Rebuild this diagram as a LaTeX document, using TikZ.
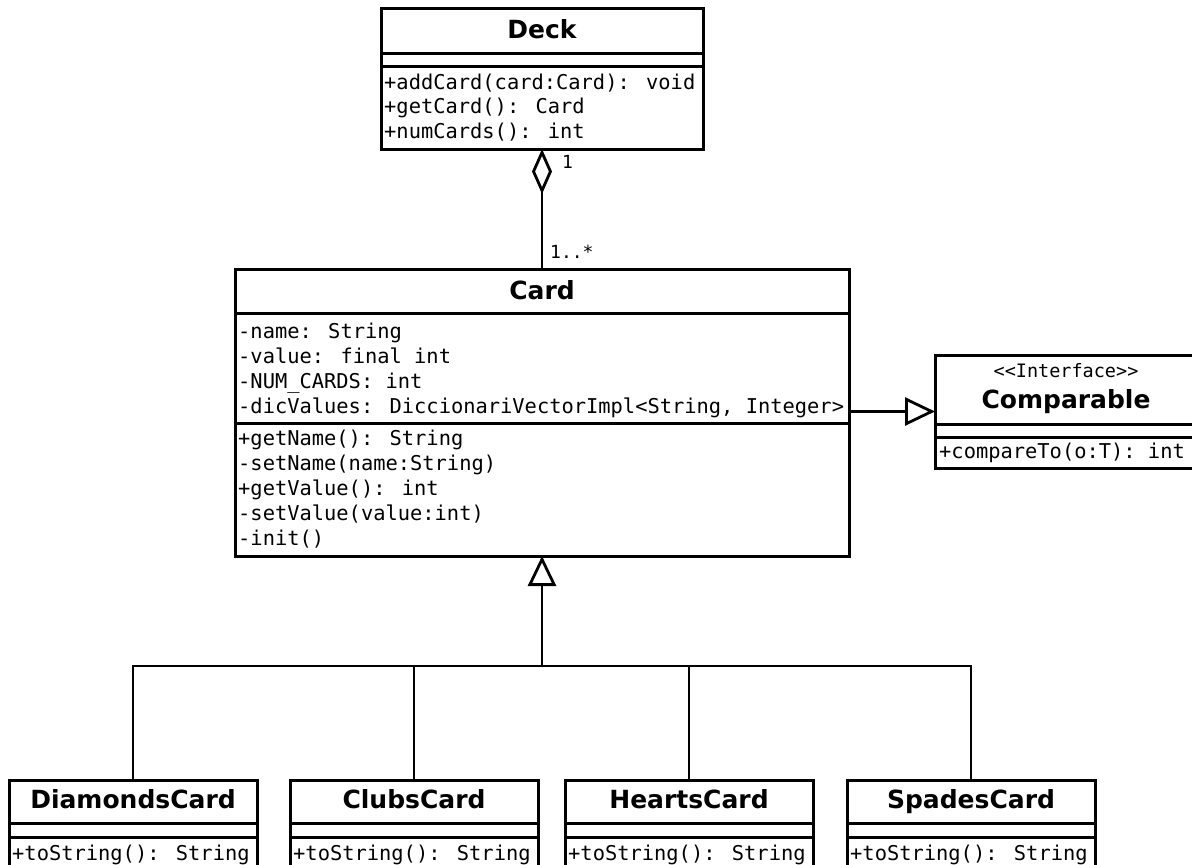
\documentclass[tikz,border=0pt]{standalone}
\usepackage{fontspec}
\setmainfont{DejaVu Sans}
\newfontfamily\umlmono{DejaVu Sans Mono}
\usetikzlibrary{arrows.meta}

\tikzset{
  classbox/.style={draw, line width=3pt, rectangle, inner sep=0pt, outer sep=0pt, anchor=north west},
  sepline/.style={line width=3pt},
  classname/.style={font=\bfseries\fontsize{25}{30}\selectfont, anchor=base, inner sep=0pt},
  stereo/.style={font=\umlmono\fontsize{18.5}{22}\selectfont, anchor=base, inner sep=0pt},
  member/.style={font=\umlmono\fontsize{20.4}{24}\selectfont, anchor=base west, inner sep=0pt},
  mult/.style={font=\umlmono\fontsize{18}{21}\selectfont, anchor=base west, inner sep=0pt},
  link/.style={line width=2.8pt},
  inherit/.style={link, -{Triangle[open, length=30pt, width=28pt]}},
  aggregate/.style={link, {Diamond[open, length=45pt, width=20pt]}-},
}

\begin{document}
\begin{tikzpicture}[x=1pt, y=-1pt]
\useasboundingbox (0,0) rectangle (1192,865);
\clip (0,0) rectangle (1192,865);

% ---------- Deck ----------
\node[classbox, minimum width=322pt, minimum height=141pt] (deck) at (381,8) {};
\draw[sepline] ([yshift=-45pt]deck.north west) -- ([yshift=-45pt]deck.north east);
\draw[sepline] ([yshift=-58pt]deck.north west) -- ([yshift=-58pt]deck.north east);
\node[classname] (deckT) at (542,38) {Deck};
\node[member] (deckM1) at (384,89) {+addCard(card:Card): void};
\node[member] (deckM2) at (384,113.5) {+getCard(): Card};
\node[member] (deckM3) at (384,138) {+numCards(): int};

% ---------- Card ----------
\node[classbox, minimum width=614pt, minimum height=287pt] (card) at (235,269) {};
\draw[sepline] ([yshift=-44pt]card.north west) -- ([yshift=-44pt]card.north east);
\draw[sepline] ([yshift=-154pt]card.north west) -- ([yshift=-154pt]card.north east);
\node[classname] (cardT) at (542,299) {Card};
\node[member] (cardA1) at (238,338) {-name: String};
\node[member] (cardA2) at (238,363) {-value: final int};
\node[member] (cardA3) at (238,388) {-NUM\_CARDS: int};
\node[member] (cardA4) at (238,413) {-dicValues: DiccionariVectorImpl<String, Integer>};
\node[member] (cardM1) at (238,445.5) {+getName(): String};
\node[member] (cardM2) at (238,470.5) {-setName(name:String)};
\node[member] (cardM3) at (238,495) {+getValue(): int};
\node[member] (cardM4) at (238,520) {-setValue(value:int)};
\node[member] (cardM5) at (238,545) {-init()};

% ---------- Comparable ----------
\node[classbox, minimum width=262pt, minimum height=113pt] (comp) at (935,355) {};
\draw[sepline] ([yshift=-69pt]comp.north west) -- ([yshift=-69pt]comp.north east);
\draw[sepline] ([yshift=-82pt]comp.north west) -- ([yshift=-82pt]comp.north east);
\node[stereo] (compS) at (1066,377) {<<Interface>>};
\node[classname] (compT) at (1066,408) {Comparable};
\node[member] (compM1) at (939,458) {+compareTo(o:T): int};

% ---------- Subclasses ----------
\foreach \nm/\lbl/\x/\w in {diamonds/DiamondsCard/9/248, clubs/ClubsCard/290/248,
                            hearts/HeartsCard/565/248, spades/SpadesCard/847/248}{
  \node[classbox, minimum width=\w pt, minimum height=100pt] (\nm) at (\x,780) {};
  \draw[sepline] ([yshift=-43pt]\nm.north west) -- ([yshift=-43pt]\nm.north east);
  \draw[sepline] ([yshift=-57pt]\nm.north west) -- ([yshift=-57pt]\nm.north east);
  \node[classname] (\nm T) at ([yshift=-28pt]\nm.north) {\lbl};
  \node[member] (\nm M) at ([xshift=3pt, yshift=-80pt]\nm.north west) {+toString(): String};
}

% ---------- Relations ----------
% aggregation Deck <>-- Card
\draw[aggregate] (deck.south) -- (card.north);
\node[mult] (multDeck) at (562,168) {1};
\node[mult] (multCard) at (550,258) {1..*};

% Card realizes Comparable
\draw[inherit] (card.east |- comp.west) -- (comp.west);

% inheritance tree
\coordinate (hub) at (542,666);
\draw[inherit] (hub) -- (card.south);
\draw[link] (diamonds.north) |- (hub);
\draw[link] (spades.north) |- (hub);
\draw[link] (clubs.north) -- (clubs.north |- hub);
\draw[link] (hearts.north) -- (hearts.north |- hub);
\end{tikzpicture}
\end{document}
